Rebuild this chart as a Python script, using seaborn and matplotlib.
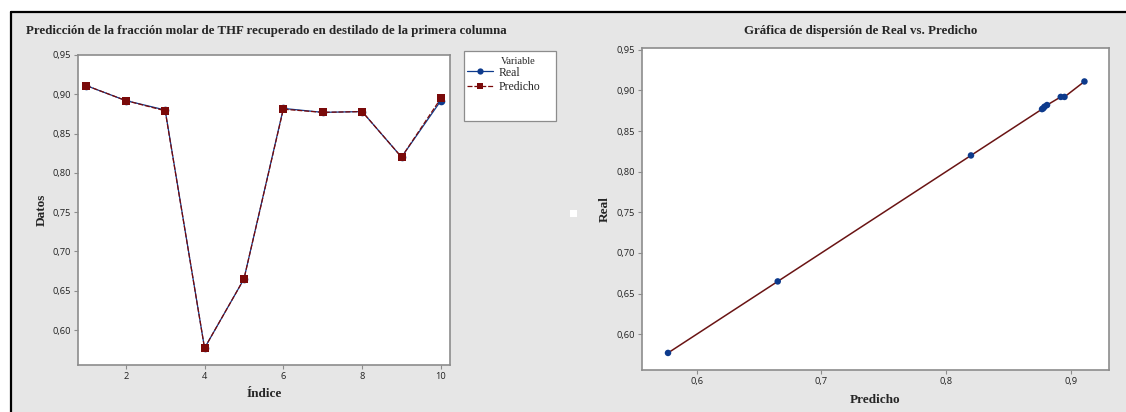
import numpy as np
import pandas as pd
import seaborn as sns
import matplotlib
matplotlib.use("Agg")
import matplotlib.pyplot as plt
from matplotlib.patches import Rectangle
from matplotlib.lines import Line2D
from matplotlib.ticker import FuncFormatter, FixedLocator

# Fracción molar de THF en destilado: valores reales y predichos
indice = [1, 2, 3, 4, 5, 6, 7, 8, 9, 10]
real = [0.911, 0.892, 0.880, 0.577, 0.665, 0.882, 0.877, 0.878, 0.820, 0.892]
predicho = [0.911, 0.892, 0.879, 0.577, 0.665, 0.881, 0.877, 0.878, 0.820, 0.895]

variables = ["Real", "Predicho"]
y_ticks = [0.60, 0.65, 0.70, 0.75, 0.80, 0.85, 0.90, 0.95]
x_ticks_left = [2, 4, 6, 8, 10]
x_ticks_right = [0.6, 0.7, 0.8, 0.9]

W, H = 1126, 412
sns.set_theme(style="white")
plt.rcParams["font.family"] = ["DejaVu Sans"]

BLUE = "#0D3A8C"
RED = "#7A0A0A"
PANEL = "#E6E6E6"
SPINE = "#8C8C8C"
SERIF = "Liberation Serif"
TICKFONT = "Open Sans"

fig = plt.figure(figsize=(W / 100, H / 100), dpi=100, facecolor="white")

# Marco gris de la ventana con borde negro arriba e izquierda
fig.patches.append(Rectangle((11 / W, 0), 1 - 11 / W, 1 - 12 / H,
                             transform=fig.transFigure, facecolor=PANEL,
                             edgecolor="none", zorder=-10))
fig.lines.append(Line2D([11 / W, 1], [1 - 12 / H, 1 - 12 / H],
                        transform=fig.transFigure, color="black", lw=1.6))
fig.lines.append(Line2D([11 / W, 11 / W], [0, 1 - 12 / H],
                        transform=fig.transFigure, color="black", lw=1.6))


def px_axes(x0, y0, x1, y1):
    return fig.add_axes([x0 / W, 1 - y1 / H, (x1 - x0) / W, (y1 - y0) / H])


def style_axes(ax):
    ax.set_facecolor("white")
    for s in ax.spines.values():
        s.set_color(SPINE)
        s.set_linewidth(1.2)
    ax.tick_params(axis="both", which="major", direction="out", length=3,
                   width=0.8, color=SPINE, labelsize=6.7, labelcolor="#222222",
                   left=True, bottom=True, pad=2)
    for lab in ax.get_xticklabels() + ax.get_yticklabels():
        lab.set_fontfamily(TICKFONT)


comma2 = FuncFormatter(lambda v, p: f"{v:.2f}".replace(".", ","))
comma1 = FuncFormatter(lambda v, p: f"{v:.1f}".replace(".", ","))

# ---- Serie temporal: Real y Predicho por índice ----
ax1 = px_axes(77.7, 55, 450, 365)
df = pd.DataFrame({
    "Índice": indice * 2,
    "Datos": real + predicho,
    "Variable": ["Real"] * len(real) + ["Predicho"] * len(predicho),
})
sns.lineplot(data=df, x="Índice", y="Datos", hue="Variable", style="Variable",
             hue_order=variables, style_order=variables,
             palette={"Real": BLUE, "Predicho": RED},
             markers={"Real": "o", "Predicho": "s"},
             dashes={"Real": "", "Predicho": (4, 1.5)},
             linewidth=0.9, markersize=5.5, markeredgewidth=0,
             ax=ax1, legend=True)
ax1.set_xlim(0.78, 10.23)
ax1.set_ylim(0.5555, 0.95)
ax1.xaxis.set_major_locator(FixedLocator(x_ticks_left))
ax1.yaxis.set_major_locator(FixedLocator(y_ticks))
ax1.yaxis.set_major_formatter(comma2)
ax1.set_xlabel("Índice", fontfamily=SERIF, fontweight="bold", fontsize=9.5, labelpad=5)
ax1.set_ylabel("Datos", fontfamily=SERIF, fontweight="bold", fontsize=9.5, labelpad=3)
style_axes(ax1)

# Leyenda dentro de un recuadro blanco fijo
handles, labels = ax1.get_legend_handles_labels()
ax1.get_legend().remove()
for h in handles:
    h.set_markersize(4.5)
fig.patches.append(Rectangle((464 / W, 1 - 121 / H), 92 / W, 70.5 / H,
                             transform=fig.transFigure, facecolor="white",
                             edgecolor=SPINE, lw=0.9, zorder=5))
leg = fig.legend(handles, labels, loc="upper left",
                 bbox_to_anchor=(467.5 / W, 1 - 66.5 / H), frameon=False,
                 prop={"family": SERIF, "size": 8.5}, handlelength=2.2,
                 handletextpad=0.45, labelspacing=0.2, borderaxespad=0,
                 borderpad=0)
leg.set_zorder(6)
fig.text(501 / W, 1 - 61 / H, "Variable", fontfamily=SERIF, fontsize=7.5,
         va="center", ha="left", zorder=7)

# ---- Dispersión: Real frente a Predicho ----
ax2 = px_axes(641.7, 47.5, 1109, 370)
orden = np.argsort(predicho)
sns.lineplot(x=np.array(predicho)[orden], y=np.array(real)[orden],
             color="#6A1414", linewidth=1.1, sort=False, ax=ax2, zorder=2)
sns.scatterplot(x=predicho, y=real, color=BLUE, s=22, edgecolor="none",
                ax=ax2, zorder=3)
ax2.set_xlim(0.5559, 0.9307)
ax2.set_ylim(0.556, 0.9528)
ax2.xaxis.set_major_locator(FixedLocator(x_ticks_right))
ax2.xaxis.set_major_formatter(comma1)
ax2.yaxis.set_major_locator(FixedLocator(y_ticks))
ax2.yaxis.set_major_formatter(comma2)
ax2.set_xlabel("Predicho", fontfamily=SERIF, fontweight="bold", fontsize=9.5, labelpad=6)
ax2.set_ylabel("Real", fontfamily=SERIF, fontweight="bold", fontsize=9.5, labelpad=4)
style_axes(ax2)

# Títulos
fig.text(26 / W, 1 - 31 / H,
         "Predicción de la fracción molar de THF recuperado en destilado de la primera columna",
         fontfamily=SERIF, fontweight="bold", fontsize=9.25, ha="left", va="center")
fig.text(861 / W, 1 - 31 / H, "Gráfica de dispersión de Real vs. Predicho",
         fontfamily=SERIF, fontweight="bold", fontsize=9.25, ha="center", va="center")

# Pequeño recuadro blanco entre ambos paneles
fig.patches.append(Rectangle((570 / W, 1 - 217 / H), 7 / W, 7 / H,
                             transform=fig.transFigure, facecolor="white",
                             edgecolor="none", zorder=1))

fig.savefig("out.png", dpi=100, facecolor="white")
